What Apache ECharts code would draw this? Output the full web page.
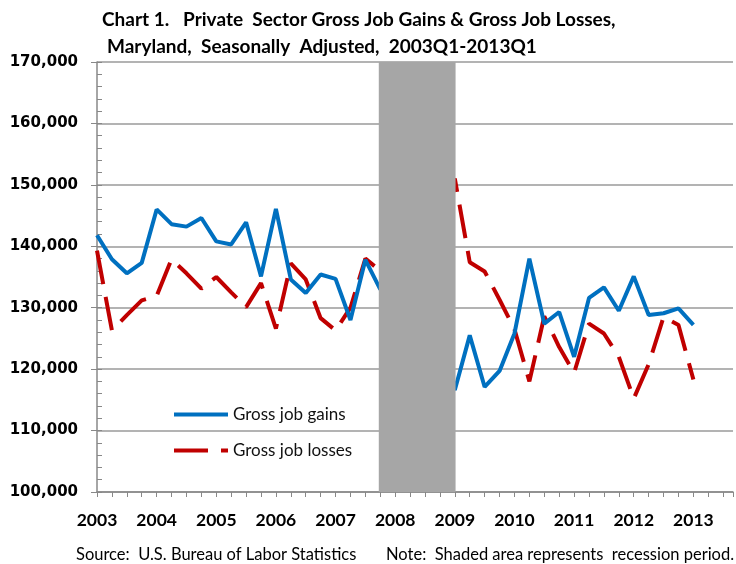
<!DOCTYPE html>
<html>
<head>
<meta charset="utf-8">
<script src="https://cdn.jsdelivr.net/npm/echarts@6/dist/echarts.min.js"></script>
<style>html,body{margin:0;padding:0;background:#fff;}#c{width:736px;height:564px;}</style>
</head>
<body>
<div id="c"></div>
<script>
// Quarters 2003Q1 .. 2013Q1 (index 0 = 2003Q1)
const yearLabels = ['2003','2004','2005','2006','2007','2008','2009','2010','2011','2012','2013'];
const gains = [141800,137900,135600,137300,146000,143600,143200,144600,140800,140300,
               143900,135100,146100,134600,132400,135400,134700,128000,137800,133000,
               134500,131000,126000,121000,116600,125500,117100,119700,125800,138000,
               127400,129300,122000,131600,133300,129500,135100,128800,129100,129900,
               127200];
const losses = [139300,126300,128800,131200,131900,137900,135600,133100,135000,132500,
                130100,134000,126600,137200,134600,128300,126300,130000,138000,136000,
                137500,140000,144000,148000,151000,137400,135900,131300,126500,118000,
                128600,123600,119400,127400,125800,122000,115200,120800,128500,127200,
                118300];
// recession period in quarter-index units (as drawn)
const recession = [18.9, 24.05];

const toPairs = arr => arr.map((v, i) => [i, v]);

const chart = echarts.init(document.getElementById('c'));
const gridColor = '#9a9a9a';
chart.setOption({
  animation: false,
  backgroundColor: '#fff',
  title: [
    {text: 'Chart 1.   Private  Sector Gross Job Gains & Gross Job Losses,', left: 97, top: 5,
     textStyle: {fontFamily: 'Lato', fontWeight: 'bold', fontSize: 19, color: '#000'}},
    {text: 'Maryland,  Seasonally  Adjusted,  2003Q1-2013Q1', left: 102, top: 32,
     textStyle: {fontFamily: 'Lato', fontWeight: 'bold', fontSize: 19, color: '#000'}},
    {text: 'Source:  U.S. Bureau of Labor Statistics', left: 71, top: 541,
     textStyle: {fontFamily: 'Lato', fontWeight: 'normal', fontSize: 16.5, color: '#000'}},
    {text: 'Note:  Shaded area represents  recession period.', left: 381, top: 541,
     textStyle: {fontFamily: 'Lato', fontWeight: 'normal', fontSize: 16.5, color: '#000'}}
  ],
  legend: {
    orient: 'vertical', left: 167, top: 401, itemWidth: 54, itemHeight: 14, itemGap: 19,
    itemStyle: {opacity: 0},
    lineStyle: {width: 4},
    textStyle: {fontFamily: 'Lato', fontSize: 17, color: '#111'},
    data: ['Gross job gains', 'Gross job losses']
  },
  grid: {left: 97, right: 0, top: 62, bottom: 72, containLabel: false},
  xAxis: {
    type: 'value', min: 0, max: (736 - 97) / 14.98, interval: 1,
    axisLine: {show: true, lineStyle: {color: '#888', width: 1.5}},
    axisTick: {show: true, length: 5, lineStyle: {color: '#888'}},
    splitLine: {show: false},
    axisLabel: {
      margin: 19, fontFamily: 'Lato', fontWeight: 'bold', fontSize: 17.5, color: '#000',
      formatter: v => (Math.abs(v - Math.round(v)) < 1e-6 && Math.round(v) % 4 === 0) ? yearLabels[Math.round(v) / 4] || '' : ''
    }
  },
  yAxis: [{
    type: 'value', min: 100000, max: 170000, interval: 10000,
    axisLine: {show: true, lineStyle: {color: '#888', width: 1.5}},
    axisTick: {show: true, length: 6, lineStyle: {color: '#888'}},
    splitLine: {show: true, lineStyle: {color: gridColor, width: 1.5}},
    axisLabel: {
      margin: 19, fontFamily: 'DejaVu Sans', fontWeight: 'bold', fontSize: 15, color: '#000',
      formatter: v => v.toLocaleString('en-US')
    }
  }, {
    type: 'value', min: 100000, max: 170000, interval: 2000, position: 'left',
    axisLine: {show: false}, axisLabel: {show: false}, splitLine: {show: false},
    axisTick: {show: true, inside: true, length: 5, lineStyle: {color: '#888'}}
  }],
  series: [
    {
      name: 'Gross job gains', type: 'line', data: toPairs(gains), symbol: 'none', z: 3,
      lineStyle: {color: '#0070C0', width: 4}, itemStyle: {color: '#0070C0'}
    },
    {
      name: 'Gross job losses', type: 'line', data: toPairs(losses), symbol: 'none', z: 2,
      lineStyle: {color: '#C00000', width: 4, type: [34, 13], cap: 'butt'}, itemStyle: {color: '#C00000'}
    },
    {
      name: 'recession', type: 'line', data: [], z: 10, silent: true,
      markArea: {
        silent: true, z: 10,
        itemStyle: {color: '#A6A6A6', opacity: 1},
        data: [[{xAxis: recession[0], yAxis: 100000}, {xAxis: recession[1], yAxis: 170000}]]
      }
    }
  ]
});
</script>
</body>
</html>
